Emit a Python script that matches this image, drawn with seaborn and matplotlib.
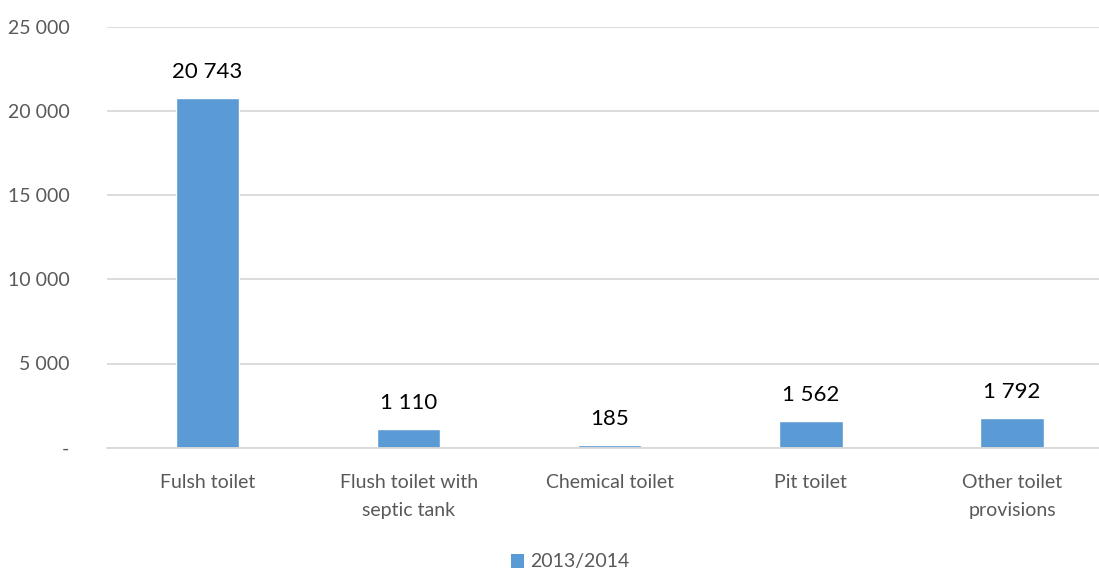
import matplotlib
matplotlib.use("Agg")
import matplotlib.pyplot as plt
import seaborn as sns
import pandas as pd
from matplotlib.patches import Patch

categories = ["Fulsh toilet", "Flush toilet with\nseptic tank", "Chemical toilet", "Pit toilet", "Other toilet\nprovisions"]
values = [20743, 1110, 185, 1562, 1792]
series_name = "2013/2014"
yticks = [0, 5000, 10000, 15000, 20000, 25000]
ytick_labels = ["-", "5 000", "10 000", "15 000", "20 000", "25 000"]

sns.set_theme(style="white")
plt.rcParams["font.family"] = ["Lato", "DejaVu Sans"]

bar_color = "#5B9BD5"
df = pd.DataFrame({"cat": categories, "val": values})

W, H = 1099, 571
fig = plt.figure(figsize=(W / 100, H / 100), dpi=100)
left, right, bottom, top = 107, 1099, 571 - 447.7, 571 - 26.7
ax = fig.add_axes([left / W, bottom / H, (right - left) / W, (top - bottom) / H])

sns.barplot(data=df, x="cat", y="val", color=bar_color, width=0.315, ax=ax, saturation=1)

ax.set_ylim(0, 25000)
ax.set_xlim(-0.5, 4.5 - (1112.5 - 1099) / 201)
ax.set_yticks(yticks)
ax.set_yticklabels(ytick_labels)
ax.yaxis.grid(True, color="#d9d9d9", linewidth=1.3)
ax.set_axisbelow(True)
for s in ["top", "right", "left"]:
    ax.spines[s].set_visible(False)
ax.spines["bottom"].set_color("#d9d9d9")
ax.spines["bottom"].set_linewidth(1.3)
ax.set_xlabel("")
ax.set_ylabel("")
ax.tick_params(axis="y", length=0, pad=27, labelsize=14, labelcolor="#595959")
ax.tick_params(axis="x", length=0, pad=19, labelsize=14, labelcolor="#595959")
for t in ax.get_xticklabels():
    t.set_linespacing(1.75)

for i, v in enumerate(values):
    ax.text(i, v + 950, f"{v:,}".replace(",", " "), ha="center", va="bottom",
            fontsize=16, color="black")

handles = [Patch(facecolor=bar_color, edgecolor="none", label=series_name)]
fig.legend(handles=handles, loc="center", bbox_to_anchor=(570 / W, 1 - 562 / H),
           frameon=False, fontsize=14, labelcolor="#595959",
           handlelength=0.7, handleheight=0.7, handletextpad=0.3)

fig.savefig("out.png", dpi=100)
